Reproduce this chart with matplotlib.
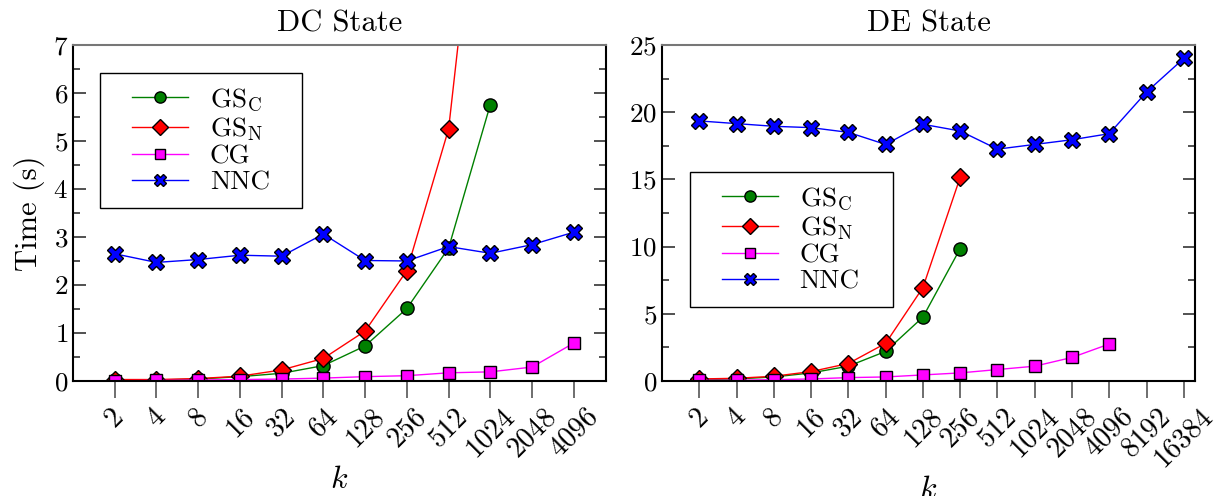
import matplotlib
matplotlib.use("Agg")
import matplotlib.pyplot as plt
from matplotlib.ticker import MultipleLocator
from matplotlib.legend_handler import HandlerLine2D

plt.rcParams['font.family'] = ['cmr10', 'DejaVu Serif']
plt.rcParams['mathtext.fontset'] = 'cm'
plt.rcParams['axes.formatter.use_mathtext'] = True
plt.rcParams['axes.unicode_minus'] = False

# ---------------- data ----------------
dc_k = ["2", "4", "8", "16", "32", "64", "128", "256", "512", "1024", "2048", "4096"]
dc_gsc = [0.02, 0.02, 0.04, 0.09, 0.16, 0.32, 0.73, 1.51, 2.77, 5.76]
dc_gsn = [0.03, 0.03, 0.05, 0.10, 0.23, 0.47, 1.04, 2.30, 5.25, 13.0]
dc_cg = [0.005, 0.01, 0.02, 0.03, 0.04, 0.06, 0.09, 0.11, 0.17, 0.19, 0.29, 0.79]
dc_nnc = [2.65, 2.47, 2.53, 2.62, 2.60, 3.06, 2.51, 2.50, 2.80, 2.66, 2.84, 3.10]

de_k = ["2", "4", "8", "16", "32", "64", "128", "256", "512", "1024", "2048",
        "4096", "8192", "16384"]
de_gsc = [0.10, 0.15, 0.30, 0.60, 1.10, 2.20, 4.75, 9.85]
de_gsn = [0.15, 0.20, 0.35, 0.70, 1.30, 2.80, 6.95, 15.15]
de_cg = [0.05, 0.05, 0.10, 0.15, 0.25, 0.30, 0.45, 0.60, 0.85, 1.10, 1.75, 2.75]
de_nnc = [19.35, 19.15, 18.95, 18.85, 18.50, 17.60, 19.10, 18.60, 17.25, 17.60,
          17.95, 18.40, 21.50, 24.00]

labels = ["GS$_\\mathrm{C}$", "GS$_\\mathrm{N}$", "CG", "NNC"]
styles = [
    dict(color='#008000', marker='o', markerfacecolor='#008000', markersize=9.5),
    dict(color='#ff0000', marker='D', markerfacecolor='#ff0000', markersize=9),
    dict(color='#ff00ff', marker='s', markerfacecolor='#ff00ff', markersize=9),
    dict(color='#0000ff', marker='X', markerfacecolor='#0000ff', markersize=11),
]

fig = plt.figure(figsize=(12.18, 4.96), dpi=100)
ax1 = fig.add_axes([0.0599, 0.2319, 0.4376, 0.6774])
ax2 = fig.add_axes([0.5435, 0.2319, 0.4376, 0.6774])


def draw(ax, ks, series, ylim, ymajor, yminor, title, xlim, leg_box):
    handles = []
    for vals, st, lab in zip(series, styles, labels):
        x = list(range(len(vals)))
        h, = ax.plot(x, vals, linewidth=1.0, markeredgecolor='black',
                     markeredgewidth=1.0, label=lab, clip_on=True, **st)
        handles.append(h)
    ax.set_xlim(*xlim)
    ax.set_ylim(*ylim)
    ax.set_xticks(range(len(ks)))
    ax.set_xticklabels(ks, rotation=45, ha='center', va='top', fontsize=20.5)
    ax.yaxis.set_major_locator(MultipleLocator(ymajor))
    ax.yaxis.set_minor_locator(MultipleLocator(yminor))
    ax.tick_params(axis='y', which='both', direction='in', left=True, right=True,
                   labelsize=19.5, width=1.2, colors='#333333', labelcolor='black')
    ax.tick_params(axis='y', which='major', length=9)
    ax.tick_params(axis='y', which='minor', length=5)
    ax.tick_params(axis='x', which='major', direction='out', length=12,
                   width=1.2, colors='#555555', labelcolor='black', pad=4)
    for s in ax.spines.values():
        s.set_linewidth(1.5)
    ax.spines['top'].set_color('#777777')
    ax.set_title(title, fontsize=22, pad=10)
    ax.set_xlabel("$k$", fontsize=23, labelpad=3)
    hmap = {h: HandlerLine2D(xpad=0.7) for h in handles}
    leg = ax.legend(handles=handles, loc='upper left', bbox_to_anchor=leg_box,
                    mode='expand', borderaxespad=0, fontsize=19.5, fancybox=False,
                    framealpha=1, edgecolor='black', markerscale=0.85,
                    handlelength=2.75, handletextpad=0.8, borderpad=0.5,
                    labelspacing=0.07, handler_map=hmap)
    leg.get_frame().set_linewidth(1.0)


draw(ax1, dc_k, [dc_gsc, dc_gsn, dc_cg, dc_nnc], (0, 7), 1, 0.5, "DC State",
     (-1.0, 11.77), (0.0507, 0.917 - 0.408, 0.379, 0.408))
draw(ax2, de_k, [de_gsc, de_gsn, de_cg, de_nnc], (0, 25), 5, 2.5, "DE State",
     (-1.0, 13.3), (0.0525, 0.622 - 0.408, 0.381, 0.408))
ax1.set_ylabel("Time (s)", fontsize=22, labelpad=6)

fig.savefig("out.png", dpi=100)
